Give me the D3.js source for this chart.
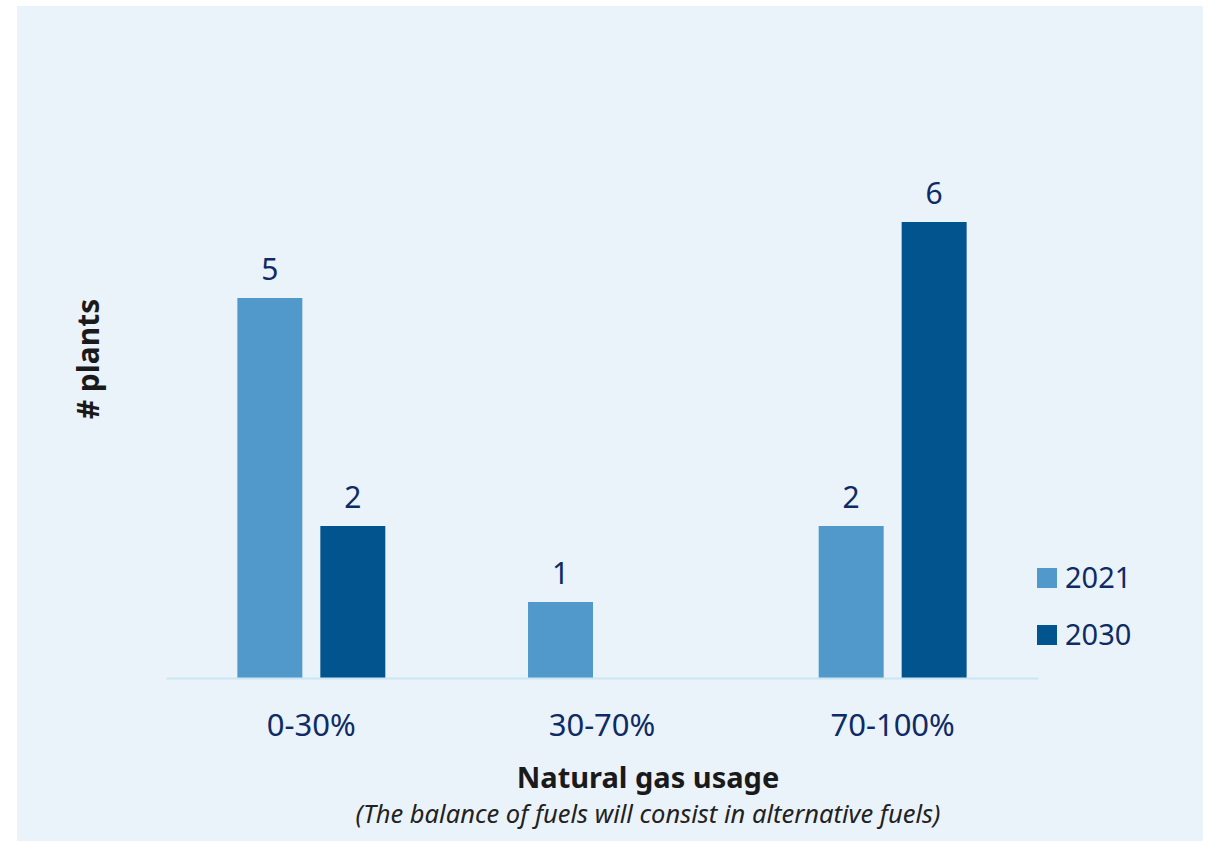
<!DOCTYPE html>
<html>
<head>
<meta charset="utf-8">
<script src="https://cdn.jsdelivr.net/npm/d3@7"></script>
<style>
  html, body { margin: 0; padding: 0; background: #ffffff; }
  svg { display: block; }
</style>
</head>
<body>
<svg id="chart" width="1212" height="842"></svg>
<script>
const categories = ["0-30%", "30-70%", "70-100%"];
const seriesNames = ["2021", "2030"];
const values2021 = [5, 1, 2];
const values2030 = [2, null, 6];
const colors = ["#5198CB", "#02548E"];

const svg = d3.select("#chart");
const font = "'Noto Sans', 'Open Sans', sans-serif";
const navy = "#0E2B66";

// panel
svg.append("rect").attr("x", 17).attr("y", 6).attr("width", 1186).attr("height", 835)
  .attr("fill", "#EBF3FA");

const plot = { left: 166, right: 1038, base: 678 };

const x0 = d3.scaleBand().domain(categories).range([plot.left, plot.right])
  .paddingInner(0.491).paddingOuter(0.2455);
const x1 = d3.scaleBand().domain(seriesNames).range([0, x0.bandwidth()])
  .paddingInner(0.2169).paddingOuter(0);
const y = d3.scaleLinear().domain([0, 6]).range([plot.base, plot.base - 456]);

const data = [];
categories.forEach((c, i) => {
  [values2021, values2030].forEach((arr, s) => {
    if (arr[i] != null) data.push({ cat: c, series: seriesNames[s], value: arr[i], s });
  });
});

const g = svg.append("g");
g.selectAll("rect.bar").data(data).join("rect")
  .attr("class", "bar")
  .attr("x", d => x0(d.cat) + x1(d.series))
  .attr("y", d => y(d.value))
  .attr("width", x1.bandwidth())
  .attr("height", d => y(0) - y(d.value))
  .attr("fill", d => colors[d.s]);

g.selectAll("text.val").data(data).join("text")
  .attr("class", "val")
  .attr("x", d => x0(d.cat) + x1(d.series) + x1.bandwidth() / 2)
  .attr("y", d => y(d.value) - 18)
  .attr("text-anchor", "middle")
  .attr("font-family", font).attr("font-size", 30).attr("fill", navy)
  .text(d => d.value);

// x axis
const xAxis = d3.axisBottom(x0).tickSize(0).tickPadding(36);
const ax = svg.append("g").attr("transform", `translate(0,${plot.base})`).call(xAxis);
ax.select(".domain").attr("stroke", "#CBE5F2").attr("stroke-width", 2);
ax.selectAll("text").attr("font-family", font).attr("font-size", 31).attr("fill", navy);

// axis titles
svg.append("text").attr("x", 648).attr("y", 788).attr("text-anchor", "middle")
  .attr("font-family", font).attr("font-weight", "bold").attr("font-size", 29)
  .attr("fill", "#1A1A1A").text("Natural gas usage");
svg.append("text").attr("x", 648).attr("y", 823).attr("text-anchor", "middle")
  .attr("font-family", font).attr("font-style", "italic").attr("font-size", 25.5)
  .attr("fill", "#222222").text("(The balance of fuels will consist in alternative fuels)");
svg.append("text")
  .attr("transform", "translate(99,359) rotate(-90)")
  .attr("text-anchor", "middle")
  .attr("font-family", font).attr("font-weight", "bold").attr("font-size", 30)
  .attr("fill", "#1A1A1A").text("# plants");

// legend
const leg = svg.append("g");
seriesNames.forEach((s, i) => {
  const ly = 568 + i * 57;
  leg.append("rect").attr("x", 1037).attr("y", ly).attr("width", 20).attr("height", 20)
    .attr("fill", colors[i]);
  leg.append("text").attr("x", 1065).attr("y", ly + 20)
    .attr("font-family", font).attr("font-size", 29).attr("fill", navy).text(s);
});
</script>
</body>
</html>
